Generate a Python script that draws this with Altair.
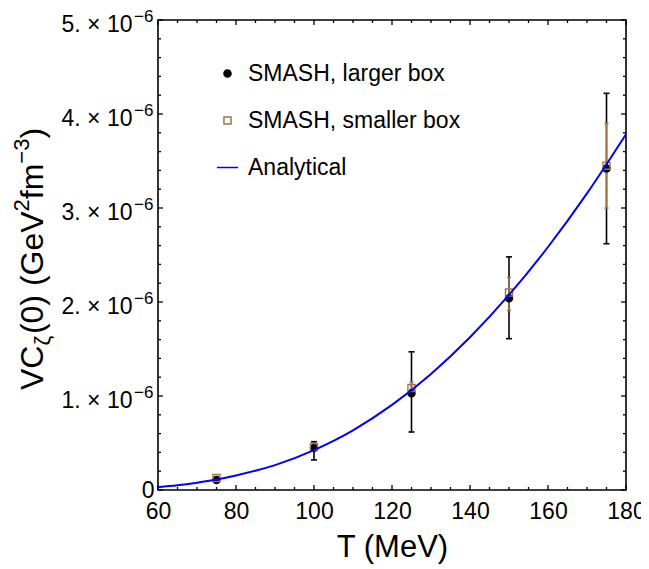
import altair as alt
import pandas as pd

# ---------------- data ----------------
series_names = ["SMASH, larger box", "SMASH, smaller box", "Analytical"]

T_points = [75, 100, 125, 150, 175]

larger_val = [0.106e-6, 0.447e-6, 1.03e-6, 2.04e-6, 3.42e-6]
larger_lo = [0.092e-6, 0.32e-6, 0.617e-6, 1.61e-6, 2.62e-6]
larger_hi = [0.122e-6, 0.514e-6, 1.47e-6, 2.48e-6, 4.22e-6]

smaller_val = [0.128e-6, 0.457e-6, 1.085e-6, 2.10e-6, 3.45e-6]
smaller_lo = [0.115e-6, 0.43e-6, 1.00e-6, 1.91e-6, 3.00e-6]
smaller_hi = [0.140e-6, 0.49e-6, 1.15e-6, 2.26e-6, 3.90e-6]

curve_T = [60, 65, 70, 75, 80, 90, 100, 110, 120, 130, 140, 150, 160, 170, 180]
curve_val = [0.030e-6, 0.050e-6, 0.078e-6, 0.112e-6, 0.155e-6, 0.265e-6, 0.425e-6,
             0.635e-6, 0.905e-6, 1.235e-6, 1.625e-6, 2.075e-6, 2.585e-6, 3.155e-6,
             3.785e-6]

x_major = [60, 80, 100, 120, 140, 160, 180]
x_minor = [65, 70, 75, 85, 90, 95, 105, 110, 115, 125, 130, 135, 145, 150, 155, 165, 170, 175]
y_major = [0, 1e-6, 2e-6, 3e-6, 4e-6, 5e-6]
y_minor = [k * 0.2e-6 for k in range(1, 25) if k % 5 != 0]
y_exponent_label = "−6"

x_title = "T (MeV)"
# y title pieces: (text, role) role: main / sub / sup
y_title_pieces = [("VC", "main"), ("ζ", "sub"), ("(0) (GeV", "main"), ("2", "sup"),
                  ("fm", "main"), ("−3", "sup"), (")", "main")]

# ---------------- style ----------------
FONT = "Liberation Sans"
BROWN = "#a47446"
BLUE = "#0000ff"
W, H = 468, 470
XMIN, XMAX = 60, 180
YMIN, YMAX = 0, 5e-6

xscale = alt.Scale(domain=[XMIN, XMAX], nice=False, zero=False, padding=0)
yscale = alt.Scale(domain=[YMIN, YMAX], nice=False, zero=False, padding=0)

# ---------------- tables ----------------
pts = pd.DataFrame({
    "T": T_points * 2,
    "val": larger_val + smaller_val,
    "lo": larger_lo + smaller_lo,
    "hi": larger_hi + smaller_hi,
    "series": [series_names[0]] * 5 + [series_names[1]] * 5,
})
curve = pd.DataFrame({"T": curve_T, "val": curve_val, "series": series_names[2]})
exp_df = pd.DataFrame({"v": [v for v in y_major if v != 0], "t": y_exponent_label})

# inward frame ticks (length expressed in data units)
xl_maj = 5 / W * (XMAX - XMIN)
xl_min = 3 / W * (XMAX - XMIN)
yl_maj = 5 / H * (YMAX - YMIN)
yl_min = 3 / H * (YMAX - YMIN)
rows = []
for v, big in [(v, True) for v in x_major] + [(v, False) for v in x_minor]:
    L = yl_maj if big else yl_min
    rows.append({"x": v, "x2": v, "y": YMIN, "y2": YMIN + L})
    rows.append({"x": v, "x2": v, "y": YMAX, "y2": YMAX - L})
for v, big in [(v, True) for v in y_major] + [(v, False) for v in y_minor]:
    L = xl_maj if big else xl_min
    rows.append({"x": XMIN, "x2": XMIN + L, "y": v, "y2": v})
    rows.append({"x": XMAX, "x2": XMAX - L, "y": v, "y2": v})
ticks_df = pd.DataFrame(rows)

# ---------------- axes (identical in every layer so they merge) ----------------
x_axis = alt.Axis(values=x_major, ticks=False, domain=False, grid=False, labelFlush=False,
                  labelFontSize=23, labelFont=FONT, labelColor="black", labelPadding=10,
                  titleFontSize=31, titleFont=FONT,
                  titleFontWeight="normal", titleColor="black", titlePadding=9)
y_axis = alt.Axis(values=y_major, ticks=False, domain=False, grid=False, labelFlush=False,
                  labelExpr="datum.value == 0 ? '0' : round(datum.value*1e6) + '. × 10'",
                  labelFontSize=23, labelFont=FONT, labelColor="black", labelBaseline="middle",
                  labelPadding={"condition": {"test": "datum.value == 0", "value": 4}, "value": 26},
                  labelOffset={"condition": {"test": "datum.value == 0", "value": 0}, "value": 4},
                  title=None)


def X(f):
    return alt.X(f, scale=xscale, axis=x_axis, title=x_title)


def Y(f):
    return alt.Y(f, scale=yscale, axis=y_axis, title=None)


ticks = alt.Chart(ticks_df).mark_rule(color="black", strokeWidth=1.3).encode(
    x=X("x:Q"), x2="x2:Q", y=Y("y:Q"), y2="y2:Q")

base = alt.Chart(pts)
only_l = alt.datum.series == series_names[0]
only_s = alt.datum.series == series_names[1]

err_l = base.transform_filter(only_l).mark_rule(color="black", strokeWidth=1.6).encode(
    x=X("T:Q"), y=Y("lo:Q"), y2="hi:Q")
caps_l = base.transform_filter(only_l).transform_fold(["lo", "hi"], as_=["k", "v"]).mark_tick(
    color="black", orient="horizontal", size=6, thickness=1.6, opacity=1).encode(
    x=X("T:Q"), y=Y("v:Q"))

err_s = base.transform_filter(only_s).mark_rule(color=BROWN, strokeWidth=1.6).encode(
    x=X("T:Q"), y=Y("lo:Q"), y2="hi:Q")
caps_s = base.transform_filter(only_s).transform_fold(["lo", "hi"], as_=["k", "v"]).mark_tick(
    color=BROWN, orient="horizontal", size=4, thickness=1.6, opacity=1).encode(
    x=X("T:Q"), y=Y("v:Q"))

leg = alt.Legend(title=None, orient="none", legendX=58, legendY=42,
                 labelFontSize=23, labelFont=FONT, labelColor="black", labelLimit=0,
                 rowPadding=23, symbolStrokeWidth=1.5, labelOffset=9, symbolSize=50)
stroke_scale = alt.Scale(domain=series_names, range=["black", BROWN, BLUE])
stroke_enc = alt.Stroke("series:N", scale=stroke_scale, legend=leg)
fill_enc = alt.Fill("series:N", scale=alt.Scale(domain=series_names, range=["black", "transparent", "transparent"]), legend=leg)
shape_enc = alt.Shape("series:N", scale=alt.Scale(domain=series_names, range=["circle", "square", "M-3,0H3"]), legend=leg)

points = base.mark_point(opacity=1, strokeWidth=1.4, size=50).encode(
    x=X("T:Q"), y=Y("val:Q"),
    stroke=stroke_enc, fill=fill_enc, shape=shape_enc)

line = alt.Chart(curve).mark_line(strokeWidth=2, interpolate="monotone", clip=True).encode(
    x=X("T:Q"), y=Y("val:Q"),
    stroke=alt.Stroke("series:N", scale=stroke_scale, legend=None))

# exponent superscripts of the y tick labels
exps = alt.Chart(exp_df).mark_text(fontSize=17, font=FONT, color="black", align="left",
                                   baseline="middle", dy=-3).encode(
    x=alt.value(-24), y=Y("v:Q"), text="t:N")

# rotated y title built from pieces (main text, subscript, superscripts)
MAIN, SMALL = 32, 22
widths = {"VC": 0.667 + 0.722, "ζ": 0.52, "(0) (GeV": 0.333 + 0.556 + 0.333 + 0.278 + 0.333 + 0.778 + 0.556 + 0.667,
          "2": 0.556, "fm": 0.278 + 0.833, "−3": 0.584 + 0.556, ")": 0.333}
shift = {"main": -115, "sub": -108, "sup": -129}
title_layers = []
pos = 370.0
for txt, role in y_title_pieces:
    fs = MAIN if role == "main" else SMALL
    title_layers.append(
        alt.Chart(pd.DataFrame({"t": [txt]})).mark_text(
            fontSize=fs, font=FONT, color="black", align="left", baseline="alphabetic", angle=270
        ).encode(x=alt.value(shift[role]), y=alt.value(pos), text="t:N"))
    pos -= widths[txt] * fs

chart = alt.layer(ticks, err_l, caps_l, err_s, caps_s, points, line, exps, *title_layers).properties(
    width=W, height=H,
    padding={"left": 150, "top": 12, "right": 15, "bottom": 75},
    autosize=alt.AutoSizeParams(type="none"),
).configure_view(stroke="black", strokeWidth=1.6)

chart.save("out.html", embed_options={"renderer": "svg", "actions": False})
